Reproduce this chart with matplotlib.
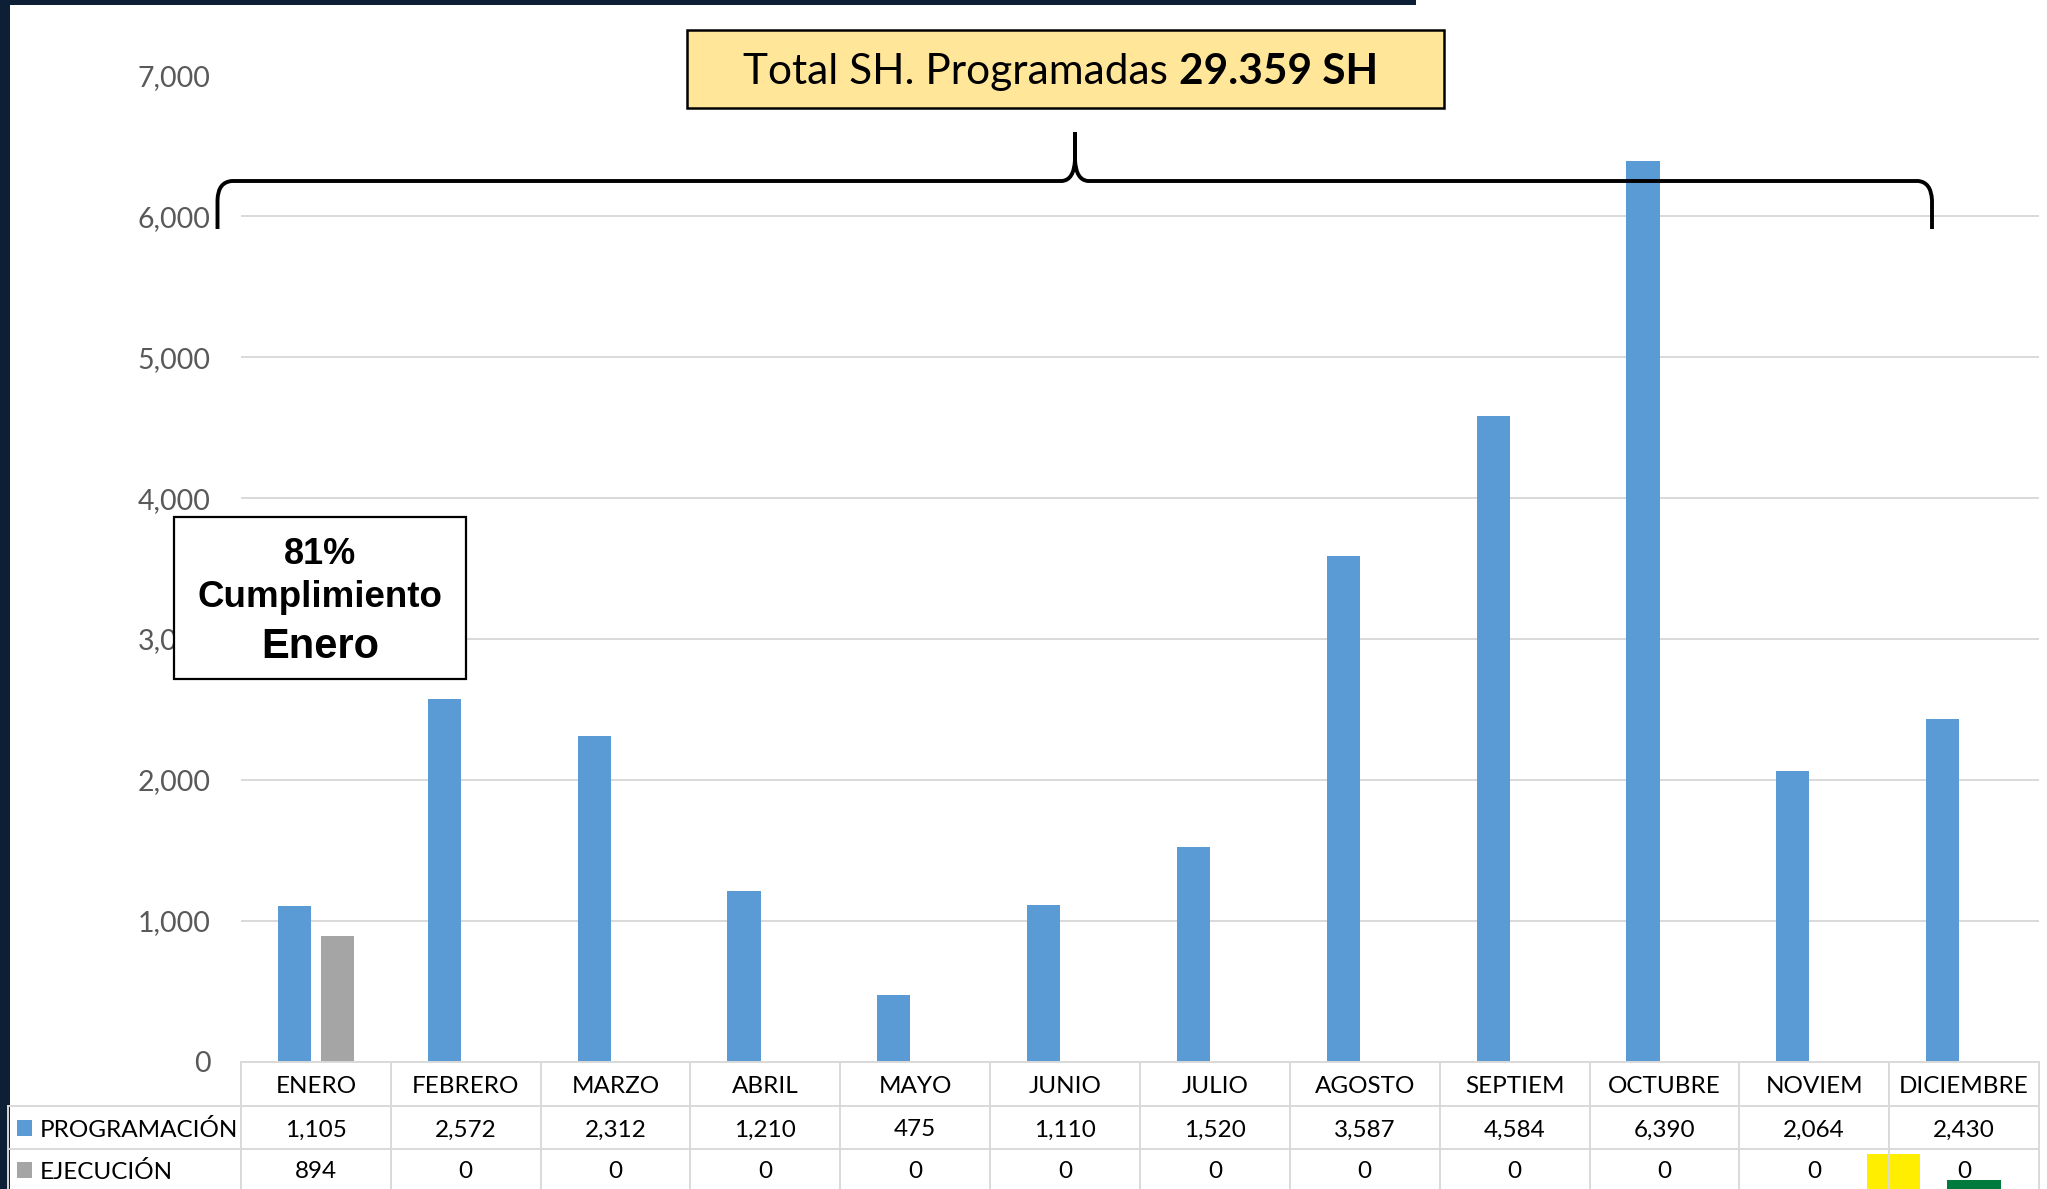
import matplotlib
matplotlib.use("Agg")
import matplotlib.pyplot as plt
import numpy as np
from matplotlib.patches import Rectangle, PathPatch
from matplotlib.path import Path
from matplotlib.transforms import blended_transform_factory

# datos del grafico
meses = ['ENERO', 'FEBRERO', 'MARZO', 'ABRIL', 'MAYO', 'JUNIO', 'JULIO',
         'AGOSTO', 'SEPTIEM', 'OCTUBRE', 'NOVIEM', 'DICIEMBRE']
programacion = [1105, 2572, 2312, 1210, 475, 1110, 1520, 3587, 4584, 6390, 2064, 2430]
ejecucion = [894, 0, 0, 0, 0, 0, 0, 0, 0, 0, 0, 0]
series = ['PROGRAMACIÓN', 'EJECUCIÓN']
yticks = [0, 1000, 2000, 3000, 4000, 5000, 6000, 7000]

azul = '#5B9BD5'
gris = '#A5A5A5'
linea = '#D9D9D9'
fuente = 'Lato'

W, H = 2047, 1189
fig = plt.figure(figsize=(W / 100, H / 100), dpi=100)
fig.patch.set_facecolor('white')

# ejes principales (en pixeles: x 241-2039, y 75.5-1061.5)
x0, x1, ytop, ybot = 241, 2039, 75.5, 1061.5
ax = fig.add_axes([x0 / W, (H - ybot) / H, (x1 - x0) / W, (ybot - ytop) / H])
x = np.arange(len(meses))
ax.bar(x - 0.143, programacion, 0.222, color=azul, zorder=3)
ax.bar(x + 0.143, ejecucion, 0.222, color=gris, zorder=3)
ax.set_xlim(-0.5, len(meses) - 0.5)
ax.set_ylim(0, 7000)
ax.set_yticks(yticks)
ax.set_yticklabels(['{:,}'.format(v) for v in yticks], fontfamily=fuente,
                   fontsize=20.5, color='#595959')
ax.set_xticks([])
ax.tick_params(axis='y', length=0, pad=22)
ax.grid(axis='y', color=linea, lw=1.4, zorder=0)
ax.set_axisbelow(True)
for s in ax.spines.values():
    s.set_visible(False)

# capa superpuesta en pixeles para tabla y anotaciones
ov = fig.add_axes([0, 0, 1, 1], zorder=5)
ov.set_xlim(0, W)
ov.set_ylim(H, 0)
ov.axis('off')
ov.patch.set_alpha(0)

# bordes azul oscuro
ov.add_patch(Rectangle((0, 0), 10, H, color='#0d1f35', lw=0))
ov.add_patch(Rectangle((0, 0), 1416, 5, color='#0d1f35', lw=0))

# marcas amarilla y verde abajo a la derecha
ov.add_patch(Rectangle((1867, 1154), 53, 40, color='#FFEE00', lw=0))
ov.add_patch(Rectangle((1947, 1180), 54, 14, color='#007A3D', lw=0))

# tabla de datos
bt = blended_transform_factory(ax.transData, ov.transData)
filas = [1061.5, 1105.7, 1148.5]
ov.plot([x0, x1], [filas[0]] * 2, color=linea, lw=1.4)
for yy in filas[1:]:
    ov.plot([8, x1], [yy, yy], color=linea, lw=1.4)
ov.plot([8, 8], [filas[1], H], color=linea, lw=1.4)
for k in range(len(meses) + 1):
    ov.plot([k - 0.5, k - 0.5], [filas[0], H], color=linea, lw=1.4, transform=bt)

yc = [1086.5, 1130, 1172]
for i, m in enumerate(meses):
    ov.text(i, yc[0], m, transform=bt, ha='center', va='center',
            fontfamily=fuente, fontsize=17.5, color='black')
    ov.text(i, yc[1], '{:,}'.format(programacion[i]), transform=bt, ha='center',
            va='center', fontfamily=fuente, fontsize=17.5, color='black')
    ov.text(i, yc[2], '{:,}'.format(ejecucion[i]), transform=bt, ha='center',
            va='center', fontfamily=fuente, fontsize=17.5, color='black')

for j, (nombre, col) in enumerate(zip(series, [azul, gris])):
    ov.add_patch(Rectangle((16.5, yc[j + 1] - 10), 15, 16, color=col, lw=0))
    ov.text(40, yc[j + 1], nombre, ha='left', va='center',
            fontfamily=fuente, fontsize=17.5, color='black')

# llave (dos mitades que se juntan en la punta)
codes = [Path.MOVETO, Path.LINETO, Path.CURVE3, Path.CURVE3,
         Path.LINETO, Path.CURVE3, Path.CURVE3, Path.LINETO]
verts = [(217.5, 229), (217.5, 200), (218, 182), (232, 181),
         (1062, 181), (1074, 180), (1075, 160), (1075, 132)]
ov.add_patch(PathPatch(Path(verts, codes), fc='none', ec='black', lw=2.8,
                       capstyle='butt', joinstyle='round'))
verts2 = [(1075, 132), (1075, 160), (1076, 180), (1088, 181),
          (1918, 181), (1931, 182), (1932, 200), (1932, 229)]
ov.add_patch(PathPatch(Path(verts2, codes), fc='none', ec='black', lw=2.8,
                       capstyle='butt', joinstyle='round'))

# cuadro del total
ov.add_patch(Rectangle((687, 30), 757, 78, fc='#FFE699', ec='black', lw=1.8))
t1 = ov.text(743, 84, 'Total SH. Programadas ', ha='left', va='baseline',
             fontfamily=fuente, fontsize=30.5, color='black')
ov.annotate('29.359 SH', xy=(1, 0), xycoords=t1, ha='left', va='bottom',
            fontfamily=fuente, fontsize=30.5, fontweight='bold', color='black')

# cuadro de cumplimiento
ov.add_patch(Rectangle((174, 517), 292, 162, fc='white', ec='black', lw=1.6))
ov.text(320, 564, '81%', ha='center', va='baseline', fontfamily='Liberation Sans',
        fontsize=26, fontweight='bold')
ov.text(320, 607, 'Cumplimiento', ha='center', va='baseline',
        fontfamily='Liberation Sans', fontsize=26.5, fontweight='bold')
ov.text(320, 658, 'Enero', ha='center', va='baseline', fontfamily='Liberation Sans',
        fontsize=30, fontweight='bold')

fig.savefig('out.png', dpi=100)
